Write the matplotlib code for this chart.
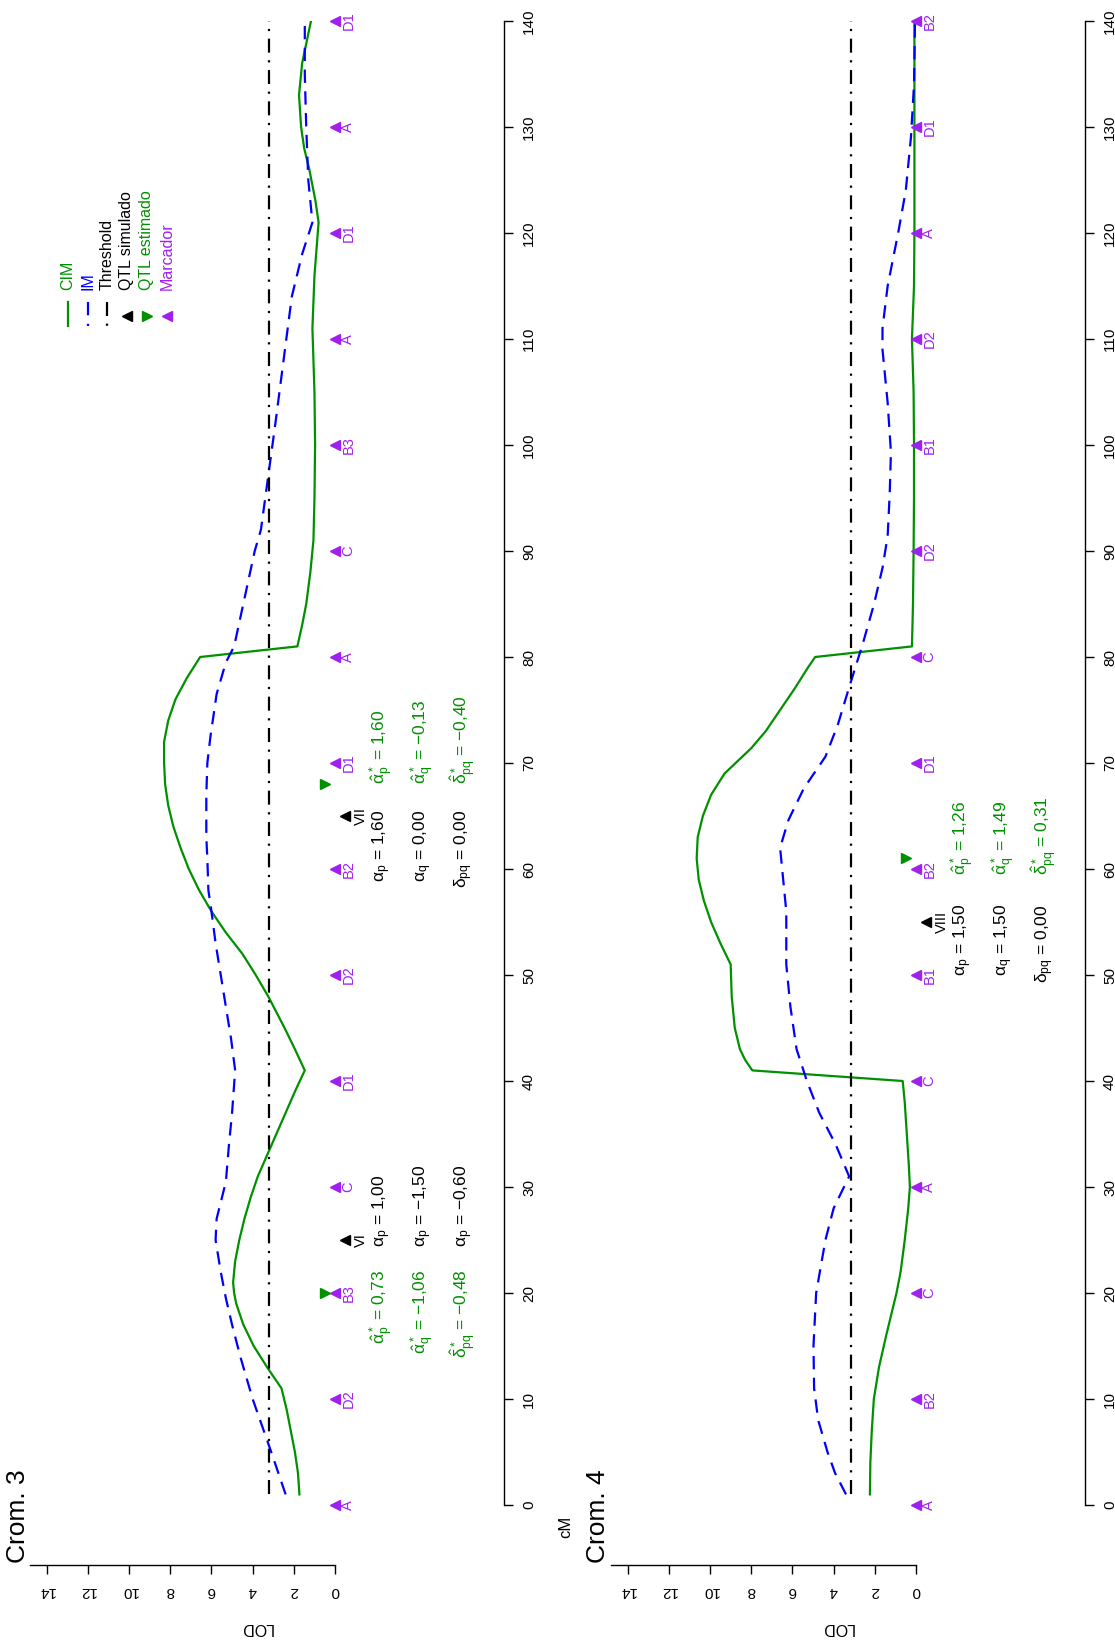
import numpy as np
import matplotlib.pyplot as plt

plt.rcParams['font.family'] = ['Liberation Sans', 'DejaVu Sans']
plt.rcParams['mathtext.fontset'] = 'custom'
plt.rcParams['mathtext.rm'] = 'Liberation Sans'
plt.rcParams['mathtext.it'] = 'Liberation Sans'
plt.rcParams['mathtext.bf'] = 'Liberation Sans:bold'

GREEN = '#009000'
BLUE = '#0000ff'
PURPLE = '#a020f0'

# ---- Crom. 3 ----
c3_cim_cm = [1, 3, 5, 7, 9, 11, 13, 15, 17, 19, 20, 21, 23, 25, 27, 29, 31, 33, 35, 37, 39, 41,
             43, 45, 48, 50, 52, 54, 56, 58, 60, 62, 64, 66, 68, 70, 72, 74, 76, 78, 80,
             81, 83, 85, 88, 91, 95, 100, 105, 111, 116, 121, 123, 126, 128, 130, 133, 136, 140]
c3_cim = [1.73, 1.8, 1.95, 2.15, 2.35, 2.6, 3.3, 3.95, 4.45, 4.8, 4.9, 4.95, 4.85, 4.65, 4.4, 4.1, 3.75,
          3.3, 2.85, 2.4, 1.95, 1.47,
          1.95, 2.45, 3.25, 3.85, 4.5, 5.3, 6.0, 6.6, 7.1, 7.5, 7.85, 8.1, 8.25, 8.3, 8.3, 8.1, 7.75, 7.2, 6.55,
          1.83, 1.6, 1.4, 1.2, 1.05, 1.0, 0.97, 1.0, 1.1, 1.0, 0.8, 0.95, 1.25, 1.5, 1.65, 1.75, 1.6, 1.17]
c3_im_cm = [1, 5, 10, 14, 17, 19.5, 22, 25, 27, 30.5, 34, 37, 41, 44, 47, 50, 53, 56, 58, 61, 63, 67, 70,
            72.5, 76.5, 79.5, 81, 85.5, 90, 92, 97, 102, 108, 114, 118, 121, 125, 130, 135, 140]
c3_im = [2.4, 3.1, 4.0, 4.6, 5.0, 5.3, 5.55, 5.8, 5.75, 5.3, 5.15, 5.0, 4.85, 5.05, 5.3, 5.55, 5.8, 6.0, 6.15, 6.2,
         6.25, 6.25, 6.2, 6.05, 5.75, 5.3, 4.9, 4.4, 3.9, 3.6, 3.25, 2.9, 2.5, 2.1, 1.6, 1.1, 1.3, 1.4, 1.47, 1.47]
c3_thr = 3.2
c3_mk_pos = [0, 10, 20, 30, 40, 50, 60, 70, 80, 90, 100, 110, 120, 130, 140]
c3_mk_lab = ['A', 'D2', 'B3', 'C', 'D1', 'D2', 'B2', 'D1', 'A', 'C', 'B3', 'A', 'D1', 'A', 'D1']
c3_sim_pos = [25, 65]
c3_sim_lab = ['VI', 'VII']
c3_est_pos = [20, 68]
c3_sim_txt = [['$\\alpha_p$ = 1,00', '$\\alpha_p$ = \u22121,50', '$\\alpha_p$ = \u22120,60'],
              ['$\\alpha_p$ = 1,60', '$\\alpha_q$ = 0,00', '$\\delta_{pq}$ = 0,00']]
c3_est_txt = [['$\\hat{\\alpha}^*_p$ = 0,73', '$\\hat{\\alpha}^*_q$ = \u22121,06', '$\\hat{\\delta}^*_{pq}$ = \u22120,48'],
              ['$\\hat{\\alpha}^*_p$ = 1,60', '$\\hat{\\alpha}^*_q$ = \u22120,13', '$\\hat{\\delta}^*_{pq}$ = \u22120,40']]

# ---- Crom. 4 ----
c4_cim_cm = [1, 4, 7, 10, 13, 16, 18, 20, 22, 25, 28, 30, 32, 35, 38, 40,
             41, 42, 43, 45, 48, 51, 53, 55, 57, 59, 61, 63, 65, 67, 69, 71.4, 73, 75, 77, 79, 80,
             81, 85, 90, 95, 100, 105, 110, 115, 120, 125, 130, 135, 140]
c4_cim = [2.24, 2.22, 2.15, 2.05, 1.8, 1.45, 1.2, 0.95, 0.75, 0.55, 0.38, 0.3, 0.35, 0.45, 0.55, 0.65,
          7.95, 8.3, 8.55, 8.8, 8.95, 9.0, 9.5, 9.95, 10.3, 10.55, 10.65, 10.6, 10.35, 9.95, 9.3, 8.0, 7.3, 6.6, 5.9, 5.25, 4.9,
          0.2, 0.15, 0.12, 0.1, 0.1, 0.12, 0.2, 0.1, 0.08, 0.08, 0.08, 0.08, 0.08]
c4_im_cm = [1, 3, 5, 8, 11, 15, 20, 25, 28, 31, 34, 37, 40, 43, 47, 51, 56, 60, 62, 64.6, 67.6, 70.6,
            73.6, 77, 81.5, 85, 88.4, 91.4, 95.4, 99.3, 104, 109, 111, 115, 120, 124, 129, 134, 140]
c4_im = [3.4, 3.93, 4.3, 4.75, 4.95, 4.98, 4.85, 4.4, 4.0, 3.25, 3.9, 4.7, 5.3, 5.8, 6.1, 6.3, 6.3, 6.5, 6.6, 6.2, 5.45, 4.4,
         3.8, 3.27, 2.55, 2.04, 1.63, 1.38, 1.28, 1.22, 1.38, 1.63, 1.63, 1.38, 0.87, 0.5, 0.25, 0.1, 0.05]
c4_thr = 3.15
c4_mk_pos = [0, 10, 20, 30, 40, 50, 60, 70, 80, 90, 100, 110, 120, 130, 140]
c4_mk_lab = ['A', 'B2', 'C', 'A', 'C', 'B1', 'B2', 'D1', 'C', 'D2', 'B1', 'D2', 'A', 'D1', 'B2']
c4_sim_pos = [55]
c4_sim_lab = ['VIII']
c4_est_pos = [61]
c4_sim_txt = [['$\\alpha_p$ = 1,50', '$\\alpha_q$ = 1,50', '$\\delta_{pq}$ = 0,00']]
c4_est_txt = [['$\\hat{\\alpha}^*_p$ = 1,26', '$\\hat{\\alpha}^*_q$ = 1,49', '$\\hat{\\delta}^*_{pq}$ = 0,31']]

W, H = 1115, 1648
fig = plt.figure(figsize=(W / 100, H / 100), dpi=100)


def px_axes(left, top, right, bottom):
    return fig.add_axes([left / W, 1 - bottom / H, (right - left) / W, (bottom - top) / H])


rows = [-2.25, -4.25, -6.25]


def panel(ax, cim_cm, cim, im_cm, im, thr, mk_pos, mk_lab, sim_pos, sim_lab, est_pos,
          sim_txt, est_txt, sim_anchor, est_anchor):
    ax.plot(cim, cim_cm, color=GREEN, lw=1.6)
    ax.plot(im, im_cm, color=BLUE, lw=1.6, dashes=(6, 3.8))
    ax.plot([thr, thr], [cim_cm[0], cim_cm[-1]], color='black', lw=1.6, dashes=(6.3, 3.4, 1, 3.4))

    ax.plot(np.zeros(len(mk_pos)), mk_pos, '<', color=PURPLE, ms=6.5, ls='none', clip_on=False)
    for p, l in zip(mk_pos, mk_lab):
        ax.text(-0.65, p, l, rotation=90, ha='center', va='center', color=PURPLE, fontsize=10.5)
    ax.plot(np.full(len(sim_pos), -0.5), sim_pos, '<', color='black', ms=6.5, ls='none')
    for p, l in zip(sim_pos, sim_lab):
        ax.text(-1.25, p, l, rotation=90, ha='center', va='center', color='black', fontsize=10.5)
    ax.plot(np.full(len(est_pos), 0.5), est_pos, '>', color=GREEN, ms=6.5, ls='none')

    for txts, (y, ha) in zip(sim_txt, sim_anchor):
        for r, t in zip(rows, txts):
            ax.text(r, y, t, rotation=90, rotation_mode='anchor', ha=ha, va='center',
                    color='black', fontsize=12.5)
    for txts, (y, ha) in zip(est_txt, est_anchor):
        for r, t in zip(rows, txts):
            ax.text(r, y, t, rotation=90, rotation_mode='anchor', ha=ha, va='center',
                    color=GREEN, fontsize=12.5)

    ax.set_xlim(15.1, -8.2)
    ax.set_ylim(-5.66, 140)
    ax.spines['left'].set_visible(False)
    ax.spines['top'].set_visible(False)
    ax.spines['bottom'].set_bounds(0, 14.8)
    ax.spines['right'].set_bounds(0, 140)
    for s in ('bottom', 'right'):
        ax.spines[s].set_linewidth(1.0)
    ax.set_xticks(range(0, 15, 2))
    ax.set_yticks(range(0, 141, 10))
    ax.yaxis.tick_right()
    ax.tick_params(axis='y', direction='out', length=6.5, width=1.0, labelrotation=90, pad=6.5, labelsize=11)
    ax.tick_params(axis='x', direction='out', length=6.5, width=1.0, labelrotation=180, pad=7, labelsize=11)
    for lbl in ax.get_yticklabels():
        lbl.set_va('center')
    ax.set_xlabel('LOD', rotation=180, fontsize=11.5)
    ax.xaxis.set_label_coords(0.485, -0.0355)
    ax.patch.set_alpha(0)


ax1 = px_axes(24, 21, 504, 1565)
panel(ax1, c3_cim_cm, c3_cim, c3_im_cm, c3_im, c3_thr, c3_mk_pos, c3_mk_lab, c3_sim_pos, c3_sim_lab,
      c3_est_pos, c3_sim_txt, c3_est_txt, [(24.3, 'left'), (65.6, 'right')], [(22.2, 'right'), (68.0, 'left')])

ax2 = px_axes(605, 21, 1085, 1565)
panel(ax2, c4_cim_cm, c4_cim, c4_im_cm, c4_im, c4_thr, c4_mk_pos, c4_mk_lab, c4_sim_pos, c4_sim_lab,
      c4_est_pos, c4_sim_txt, c4_est_txt, [(56.7, 'right')], [(59.4, 'left')])

# overlay in pixel coordinates for titles and legend
lax = fig.add_axes([0, 0, 1, 1])
lax.set_xlim(0, W)
lax.set_ylim(H, 0)
lax.axis('off')
lax.patch.set_alpha(0)

lax.text(18, 1563, 'Crom. 3', rotation=90, rotation_mode='anchor', ha='left', va='center', fontsize=19)
lax.text(598, 1563, 'Crom. 4', rotation=90, rotation_mode='anchor', ha='left', va='center', fontsize=19)
lax.text(566, 1527, 'cM', rotation=90, ha='center', va='center', fontsize=12)

leg_lab = ['CIM', 'IM', 'Threshold', 'QTL simulado', 'QTL estimado', 'Marcador']
leg_col = [GREEN, BLUE, 'black', 'black', GREEN, PURPLE]
leg_x = [68, 88, 107, 127, 147, 167]
lax.plot([leg_x[0]] * 2, [302, 326], color=GREEN, lw=1.6)
lax.plot([leg_x[1]] * 2, [302, 326], color=BLUE, lw=1.6, dashes=(6, 3.8))
lax.plot([leg_x[2]] * 2, [302, 326], color='black', lw=1.6, dashes=(6.3, 3.4, 1, 3.4))
lax.plot(leg_x[3], 316, '<', color='black', ms=6.5)
lax.plot(leg_x[4], 316, '>', color=GREEN, ms=6.5)
lax.plot(leg_x[5], 316, '<', color=PURPLE, ms=6.5)
for x, l, c in zip(leg_x, leg_lab, leg_col):
    lax.text(x, 290, l, rotation=90, rotation_mode='anchor', ha='left', va='center', color=c, fontsize=11.5)

fig.savefig('out.png', dpi=100)
